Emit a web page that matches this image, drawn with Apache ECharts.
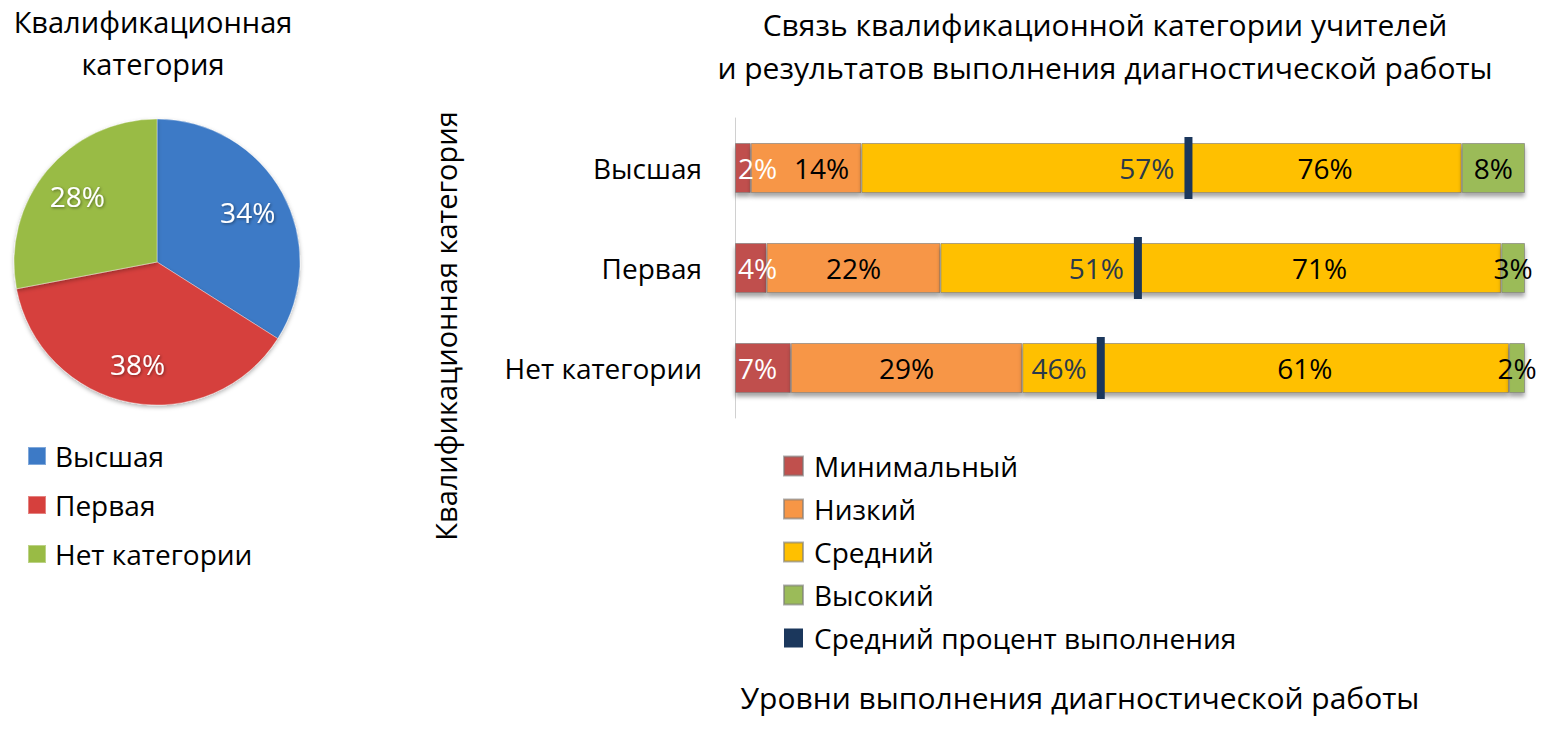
<!DOCTYPE html>
<html>
<head>
<meta charset="utf-8">
<script src="https://cdn.jsdelivr.net/npm/echarts@6/dist/echarts.min.js"></script>
<style>
html,body{margin:0;padding:0;background:#fff;}
#chart{width:1550px;height:738px;}
</style>
</head>
<body>
<div id="chart"></div>
<script>
// ---- data ----
const pieNames = ['Высшая', 'Первая', 'Нет категории'];
const pieValues = [34, 38, 28];

const categories = ['Высшая', 'Первая', 'Нет категории'];
const levelNames = ['Минимальный', 'Низкий', 'Средний', 'Высокий'];
const minimalPct = [2, 4, 7];
const lowPct = [14, 22, 29];
const middlePct = [76, 71, 61];
const highPct = [8, 3, 2];
const avgName = 'Средний процент выполнения';
const avgPct = [57.4, 51, 46.3];

const pieTitle = 'Квалификационная\nкатегория';
const barTitle = 'Связь квалификационной категории учителей\nи результатов выполнения диагностической работы';
const xAxisName = 'Уровни выполнения диагностической работы';
const yAxisName = 'Квалификационная категория';

// ---- build ----
const FONT = '"Open Sans", "Noto Sans", sans-serif';
const GRID_LEFT = 735;
const levels = [minimalPct, lowPct, middlePct, highPct];
const rowTotals = categories.map((c, i) => levels.reduce((s, a) => s + a[i], 0));
const norm = (arr) => arr.map((v, i) => v / rowTotals[i] * 100);
const nMin = norm(minimalPct), nLow = norm(lowPct), nMid = norm(middlePct), nHigh = norm(highPct);
// the "Средний" segment is drawn in two parts, split at the average-percent marker
const midBefore = avgPct.map((a, i) => a - nMin[i] - nLow[i]);
const midAfter = nMid.map((m, i) => m - midBefore[i]);

const colors = { min: '#c0504d', low: '#f79646', mid: '#ffc000', high: '#9bbb59', avg: '#1b375c' };
const pieColors = ['#3d7ac6', '#d6403d', '#99bb45'];

const segStyle = (c) => ({
  color: c,
  borderColor: 'rgba(120,120,120,0.6)',
  borderWidth: 1,
  shadowColor: 'rgba(0,0,0,0.35)',
  shadowBlur: 4,
  shadowOffsetY: 4
});
const segLabel = (raw, color, pos) => ({
  show: true,
  position: pos,
  distance: 3,
  formatter: p => raw[p.dataIndex] + '%',
  color: color,
  fontFamily: FONT,
  fontSize: 28
});
const mkBar = (name, values, color, label) => ({
  name: name, type: 'bar', stack: 'total', barWidth: 50,
  data: values, itemStyle: segStyle(color), label: label || { show: false },
  emphasis: { disabled: true }
});

const barSeries = [
  mkBar(levelNames[0], nMin, colors.min, segLabel(minimalPct, '#ffffff', 'insideLeft')),
  Object.assign(mkBar(levelNames[1], nLow, colors.low, segLabel(lowPct, '#000000', 'inside')), {
    // keep the "Низкий" label clear of the left-anchored "Минимальный" label
    labelLayout: function (params) {
      const minEnd = GRID_LEFT + 3 + 44 + 12;
      if (params.labelRect.x < minEnd) return { dx: minEnd - params.labelRect.x };
      return {};
    }
  }),
  mkBar(levelNames[2], midBefore, colors.mid, null),
  mkBar(levelNames[2], midAfter, colors.mid, segLabel(middlePct, '#000000', 'inside')),
  mkBar(levelNames[3], nHigh, colors.high, segLabel(highPct, '#000000', 'inside'))
];

const option = {
  animation: false,
  backgroundColor: '#ffffff',
  textStyle: { fontFamily: FONT },
  graphic: [
    { type: 'text', x: 153, y: 0, style: { text: pieTitle, fill: '#000', fontFamily: FONT, fontSize: 29, lineHeight: 42, align: 'center', textAlign: 'center' } },
    { type: 'text', x: 1105, y: 3, style: { text: barTitle, fill: '#000', fontFamily: FONT, fontSize: 30, lineHeight: 43, align: 'center', textAlign: 'center' } },
    { type: 'text', x: 1080, y: 682, style: { text: xAxisName, fill: '#000', fontFamily: FONT, fontSize: 30, align: 'center', textAlign: 'center' } },
    { type: 'text', x: 431, y: 326, rotation: Math.PI / 2, style: { text: yAxisName, fill: '#000', fontFamily: FONT, fontSize: 29, align: 'center', textAlign: 'center', verticalAlign: 'top', textVerticalAlign: 'top' } }
  ],
  legend: [
    {
      data: pieNames,
      orient: 'vertical',
      left: 22, top: 437,
      icon: 'rect',
      itemWidth: 18, itemHeight: 18,
      itemGap: 21,
      selectedMode: false,
      textStyle: { fontSize: 28, lineHeight: 28, color: '#000', fontFamily: FONT, padding: [0, 0, 0, 4] }
    },
    {
      data: levelNames.concat([avgName]),
      orient: 'vertical',
      left: 778, top: 447,
      icon: 'rect',
      itemWidth: 19, itemHeight: 19,
      itemGap: 15,
      selectedMode: false,
      textStyle: { fontSize: 28, lineHeight: 28, color: '#000', fontFamily: FONT, padding: [0, 0, 0, 6] }
    }
  ],
  grid: { left: GRID_LEFT, right: 25, top: 118, bottom: 320, containLabel: false },
  xAxis: {
    type: 'value', min: 0, max: 100,
    axisLine: { show: false }, axisTick: { show: false },
    axisLabel: { show: false }, splitLine: { show: false }
  },
  yAxis: {
    type: 'category', data: categories, inverse: true,
    axisLine: { show: true, lineStyle: { color: '#d0d0d0', width: 1 } },
    axisTick: { show: false },
    axisLabel: { color: '#000', fontSize: 28, fontFamily: FONT, margin: 33 }
  },
  series: [
    {
      name: 'Квалификационная категория',
      type: 'pie',
      center: [157, 262],
      radius: [0, 143],
      startAngle: 90,
      data: pieNames.map((n, i) => ({ name: n, value: pieValues[i], itemStyle: { color: pieColors[i] } })),
      label: { show: false },
      labelLine: { show: false },
      itemStyle: { borderColor: 'rgba(255,255,255,0.35)', borderWidth: 1, shadowColor: 'rgba(0,0,0,0.3)', shadowBlur: 4, shadowOffsetY: 2 },
      emphasis: { disabled: true }
    },
    {
      name: 'pieLabels',
      type: 'pie',
      center: [157, 262],
      radius: [58, 143],
      startAngle: 90,
      silent: true,
      data: pieNames.map((n, i) => ({ name: n, value: pieValues[i] })),
      itemStyle: { color: 'rgba(0,0,0,0)' },
      label: {
        show: true, position: 'inside',
        formatter: p => p.value + '%',
        color: '#fff', fontSize: 28, fontFamily: FONT,
        textShadowColor: 'rgba(0,0,0,0.45)', textShadowBlur: 3, textShadowOffsetX: 1, textShadowOffsetY: 1
      },
      labelLine: { show: false },
      emphasis: { disabled: true }
    }
  ].concat(barSeries).concat([
    {
      name: avgName,
      type: 'scatter',
      symbol: 'rect',
      symbolSize: [8, 62],
      z: 5,
      data: avgPct.map((v, i) => [v, categories[i]]),
      itemStyle: { color: colors.avg, opacity: 1 },
      label: {
        show: true, position: 'left', distance: 10,
        formatter: p => Math.round(p.value[0]) + '%',
        color: '#2a394b', fontSize: 28, fontFamily: FONT
      },
      emphasis: { disabled: true }
    }
  ])
};

const chart = echarts.init(document.getElementById('chart'), null, { renderer: 'svg' });
chart.setOption(option);
</script>
</body>
</html>
